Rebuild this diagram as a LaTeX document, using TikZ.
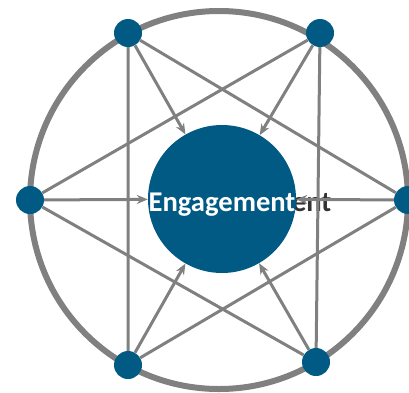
\documentclass[tikz,border=0pt]{standalone}
\usepackage{fontspec}
\setmainfont{Carlito}
\usetikzlibrary{arrows.meta}

\definecolor{engblue}{HTML}{005A84}
\definecolor{linkgray}{HTML}{808080}
\definecolor{shade}{HTML}{333333}

\begin{document}
\begin{tikzpicture}
        [
            x = 1pt, y = -1pt,
            dot/.style = {circle, fill = engblue, minimum size = 28pt, inner sep = 0pt},
            hub/.style = {circle, fill = engblue, minimum size = 148pt, inner sep = 0pt},
            link/.style = {draw = linkgray, line width = 3pt},
            feed/.style = {link, -{Stealth[length = 11pt, width = 9pt]}},
            word/.style = {inner sep = 0pt, font = \fontsize{28.6}{30}\selectfont\bfseries}
        ]
        \useasboundingbox (0,0) rectangle (409,392);

        \draw[linkgray, line width = 6pt] (219,200) circle (189);
        \node[word, text = shade] (echo) at (258,205) {Engagement};

        \node[dot] (tl) at (128,33) {};
        \node[dot] (tr) at (320,33) {};
        \node[dot] (ml) at (30,200) {};
        \node[dot] (mr) at (408,200) {};
        \node[dot] (bl) at (128,365) {};
        \node[dot] (br) at (316,362) {};

        \node[hub] (core) at (222,199) {};
        \node[word, text = white] (title) at (222,205) {Engagement};

        % the two triangles
        \draw[link] (tl) -- (bl) -- (mr) -- (tl);
        \draw[link] (tr) -- (br) -- (ml) -- (tr);

        \foreach \p in {tl, tr, ml, mr, bl, br}
            \draw[feed] (\p) -- (core);
    \end{tikzpicture}
\end{document}
